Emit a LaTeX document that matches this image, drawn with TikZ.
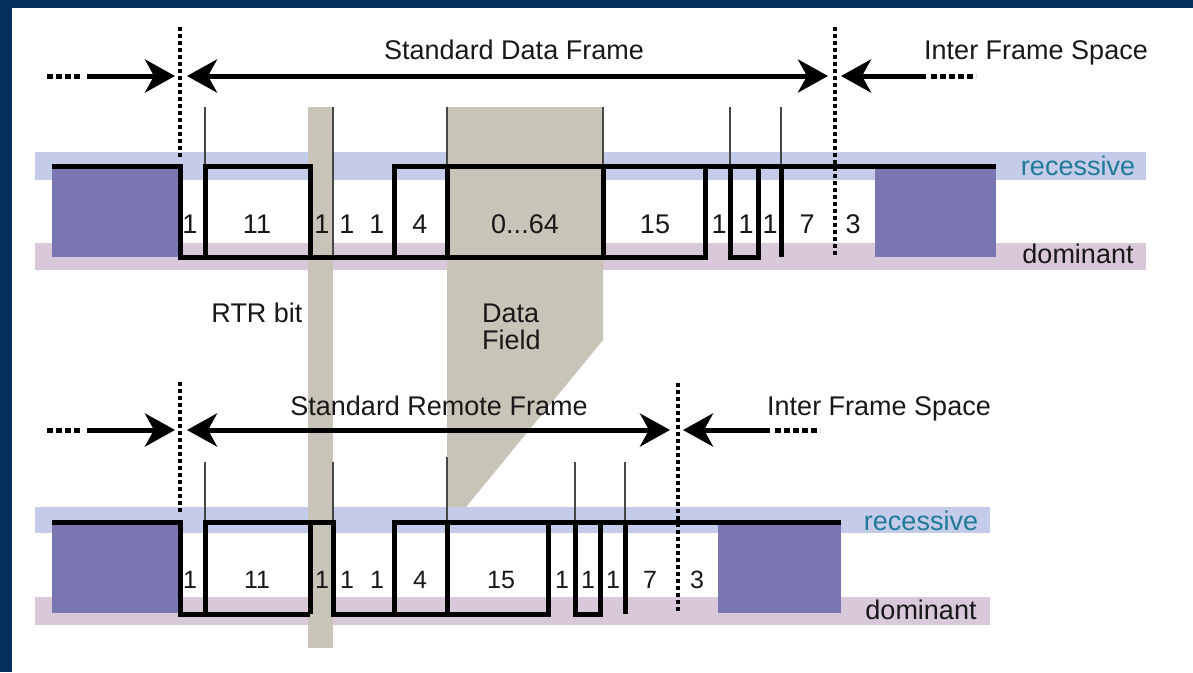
\documentclass[tikz,border=0pt]{standalone}
\usepackage{fontspec}
\setmainfont{Liberation Sans}
\usetikzlibrary{arrows.meta}

\definecolor{frameblue}{RGB}{6,46,94}
\definecolor{recband}{RGB}{196,204,234}
\definecolor{domband}{RGB}{216,200,218}
\definecolor{idleblock}{RGB}{122,118,178}
\definecolor{fieldgray}{RGB}{200,196,184}
\definecolor{recteal}{RGB}{32,122,152}
\definecolor{thingray}{RGB}{70,70,70}
\definecolor{inkblack}{RGB}{24,24,24}

\begin{document}
\begin{tikzpicture}[x=1pt,y=-1pt,
  sigline/.style={line width=5pt, line join=miter, draw=black},
  thinmark/.style={line width=1.4pt, draw=thingray},
  sepdots/.style={line width=4pt, dash pattern=on 3.5pt off 3.5pt},
  leaddots/.style={line width=5pt, dash pattern=on 6pt off 3pt},
  bigtip/.tip={Stealth[length=30pt,width=33pt,inset=9pt]},
  spanarrow/.style={line width=5pt, bigtip-bigtip},
  toarrow/.style={line width=5pt, -bigtip},
  ttl/.style={font=\fontsize{27}{30}\selectfont, text=inkblack, inner sep=0pt, anchor=base},
  bitu/.style={font=\fontsize{27}{30}\selectfont, text=inkblack, inner sep=0pt, anchor=base},
  bitl/.style={font=\fontsize{25}{28}\selectfont, text=inkblack, inner sep=0pt, anchor=base},
]
\useasboundingbox (0,0) rectangle (1193,672);

% page and frame
\fill[frameblue] (0,0) rectangle (1193,672);
\fill[white] (12,8) rectangle (1193,672);

% level bands
\fill[recband] (35,152) rectangle (1146,180);
\fill[domband] (35,243) rectangle (1146,270);
\fill[recband] (35,507) rectangle (990,533);
\fill[domband] (35,597) rectangle (990,625);

% idle bus blocks
\fill[idleblock] (52,168) rectangle (178,257);
\fill[idleblock] (875,168) rectangle (996,257);
\fill[idleblock] (52,525) rectangle (178,613);
\fill[idleblock] (718,525) rectangle (841,613);

% highlighted fields: RTR bit and data field
\fill[fieldgray] (308,107) rectangle (333,648);
\fill[fieldgray] (447,107) -- (603,107) -- (603,340) -- (466,507) -- (447,507) -- cycle;

% field boundary ticks
\foreach \x in {205,447,603,730,781} \draw[thinmark] (\x,107) -- (\x,166);
\draw[thinmark] (333,107) -- (333,257);
\foreach \x in {205,333,575,625} \draw[thinmark] (\x,462) -- (\x,522);
\draw[thinmark] (447,457) -- (447,522);

% data frame waveform
\draw[sigline] (52,166) -- (180,166) -- (180,257) -- (705,257) -- (705,166);
\draw[sigline] (205,257) -- (205,166) -- (310,166) -- (310,257);
\draw[sigline] (394,257) -- (394,166) -- (996,166);
\draw[sigline] (447,166) -- (447,257);
\draw[sigline] (603,166) -- (603,257);
\draw[sigline] (730,166) -- (730,257) -- (758,257) -- (758,166);
\draw[sigline] (781,166) -- (781,257);

% remote frame waveform
\draw[sigline] (52,522) -- (180,522) -- (180,614) -- (310,614);
\draw[sigline] (205,614) -- (205,522) -- (333,522) -- (333,614) -- (548,614) -- (548,522);
\draw[sigline] (310,522) -- (310,614);
\draw[sigline] (394,614) -- (394,522) -- (841,522);
\draw[sigline] (447,522) -- (447,614);
\draw[sigline] (575,522) -- (575,614) -- (600,614) -- (600,522);
\draw[sigline] (625,522) -- (625,614);

% frame boundaries
\draw[sepdots] (180,27) -- (180,160);
\draw[sepdots] (835,27) -- (835,257);
\draw[sepdots] (180,382) -- (180,512);
\draw[sepdots] (678,383) -- (678,612);

% data frame span arrows
\coordinate (uleadA) at (47,76);
\coordinate (uleadB) at (80,76);
\coordinate (uinS) at (87,76);
\coordinate (uinT) at (175,76);
\coordinate (ufrL) at (187,76);
\coordinate (ufrR) at (828,76);
\coordinate (uifsT) at (841,76);
\coordinate (uifsE) at (926,76);
\coordinate (utrA) at (931,76);
\coordinate (utrB) at (976,76);
\draw[leaddots] (uleadA) -- (uleadB);
\draw[toarrow] (uinS) -- (uinT);
\draw[spanarrow] (ufrL) -- (ufrR);
\draw[toarrow] (uifsE) -- (uifsT);
\draw[leaddots] (utrA) -- (utrB);

% remote frame span arrows
\coordinate (lleadA) at (47,430);
\coordinate (lleadB) at (80,430);
\coordinate (linS) at (87,430);
\coordinate (linT) at (175,430);
\coordinate (lfrL) at (187,430);
\coordinate (lfrR) at (670,430);
\coordinate (lifsT) at (683,430);
\coordinate (lifsE) at (770,430);
\coordinate (ltrA) at (775,430);
\coordinate (ltrB) at (820,430);
\draw[leaddots] (lleadA) -- (lleadB);
\draw[toarrow] (linS) -- (linT);
\draw[spanarrow] (lfrL) -- (lfrR);
\draw[toarrow] (lifsE) -- (lifsT);
\draw[leaddots] (ltrA) -- (ltrB);

% titles
\node[ttl] (tdata) at (514,59) {Standard Data Frame};
\node[ttl] (tifsu) at (1036,59) {Inter Frame Space};
\node[ttl] (tremote) at (439,415) {Standard Remote Frame};
\node[ttl] (tifsl) at (879,415) {Inter Frame Space};
\node[ttl, text=recteal] (recu) at (1078,175) {recessive};
\node[ttl] (domu) at (1078,263) {dominant};
\node[ttl, text=recteal] (recl) at (921,530) {recessive};
\node[ttl] (doml) at (921,619) {dominant};
\node[ttl] (trtr) at (257,322) {RTR bit};
\node[ttl, anchor=base west] (tdata1) at (482,322) {Data};
\node[ttl, anchor=base west] (tdata2) at (482,349) {Field};

% data frame bit counts
\node[bitu] (u1) at (190,233) {1};
\node[bitu] (u2) at (257,233) {11};
\node[bitu] (u3) at (322,233) {1};
\node[bitu] (u4) at (347,233) {1};
\node[bitu] (u5) at (377,233) {1};
\node[bitu] (u6) at (420,233) {4};
\node[bitu] (u7) at (525,233) {0...64};
\node[bitu] (u8) at (655,233) {15};
\node[bitu] (u9) at (719,233) {1};
\node[bitu] (u10) at (746,233) {1};
\node[bitu] (u11) at (770,233) {1};
\node[bitu] (u12) at (807,233) {7};
\node[bitu] (u13) at (853,233) {3};

% remote frame bit counts
\node[bitl] (l1) at (190,588) {1};
\node[bitl] (l2) at (257,588) {11};
\node[bitl] (l3) at (322,588) {1};
\node[bitl] (l4) at (347,588) {1};
\node[bitl] (l5) at (377,588) {1};
\node[bitl] (l6) at (420,588) {4};
\node[bitl] (l7) at (501,588) {15};
\node[bitl] (l8) at (562,588) {1};
\node[bitl] (l9) at (588,588) {1};
\node[bitl] (l10) at (613,588) {1};
\node[bitl] (l11) at (650,588) {7};
\node[bitl] (l12) at (697,588) {3};
\end{tikzpicture}
\end{document}
